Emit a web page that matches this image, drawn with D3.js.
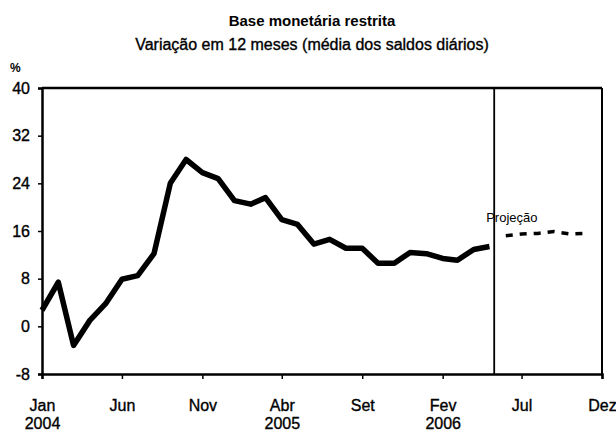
<!DOCTYPE html>
<html>
<head>
<meta charset="utf-8">
<script src="https://cdn.jsdelivr.net/npm/d3@7"></script>
<style>
  body { margin: 0; background: #fff; }
  text { font-family: "Liberation Sans", Arial, sans-serif; fill: #000; }
  .heavy { stroke: #000; stroke-width: 0.35px; }
</style>
</head>
<body>
<svg id="chart"></svg>
<script>
// data: 12-month change (%), monthly from Jan 2004
const startMonth = new Date(2004, 0, 1);
const observed = [2.7, 7.4, -3.2, 1.0, 3.8, 7.9, 8.5, 12.2, 24.0, 28.0, 25.8, 24.8,
                  21.1, 20.5, 21.6, 17.9, 17.1, 13.8, 14.6, 13.1, 13.1, 10.6, 10.6, 12.4,
                  12.2, 11.4, 11.1, 12.9, 13.4];
const projection = [15.2, 15.5, 15.6, 15.9, 15.5, 15.6];
const projectionSplit = new Date(2006, 4, 10);
const yTicks = [-8, 0, 8, 16, 24, 32, 40];
const xTickDates = [new Date(2004, 0, 1), new Date(2004, 5, 1), new Date(2004, 10, 1),
                    new Date(2005, 3, 1), new Date(2005, 8, 1), new Date(2006, 1, 1),
                    new Date(2006, 6, 1), new Date(2006, 11, 1)];
const xTickLabels = ["Jan", "Jun", "Nov", "Abr", "Set", "Fev", "Jul", "Dez"];
const xYearLabels = ["2004", "", "", "2005", "", "2006", "", ""];

const width = 616, height = 432;
const margin = {top: 88, right: 14, bottom: 58, left: 42};
const w = width - margin.left - margin.right;
const h = height - margin.top - margin.bottom;

const svgRoot = d3.select('#chart').attr('width', width).attr('height', height);

svgRoot.append('text').attr('x', 312).attr('y', 26)
    .attr('text-anchor', 'middle').style('font-size', '15px').style('font-weight', 'bold')
    .text('Base monetária restrita');
svgRoot.append('text').attr('x', 312).attr('y', 50).attr('class', 'heavy')
    .attr('text-anchor', 'middle').style('font-size', '16px')
    .text('Variação em 12 meses (média dos saldos diários)');
svgRoot.append('text').attr('x', 10).attr('y', 72)
    .style('font-size', '12px').style('font-weight', 'bold').text('%');

const svg = svgRoot.append('g')
    .attr('transform', 'translate(' + margin.left + ',' + margin.top + ')');

const obsData = observed.map((v, i) => ({date: d3.timeMonth.offset(startMonth, i), value: v}));
const projData = projection.map((v, i) => ({date: d3.timeMonth.offset(startMonth, observed.length + i), value: v}));

const x = d3.scaleTime()
    .domain([xTickDates[0], xTickDates[xTickDates.length - 1]])
    .range([0, w]);
const y = d3.scaleLinear().domain([-8, 40]).range([h, 0]);

// x axis
const xAxis = svg.append('g')
    .attr('transform', 'translate(0,' + h + ')')
    .call(d3.axisBottom(x).tickValues(xTickDates).tickSize(5).tickFormat((d, i) => xTickLabels[i]));
xAxis.select('.domain').attr('stroke-width', 2.5);
xAxis.selectAll('.tick line').attr('stroke-width', 1.5);
xAxis.selectAll('.tick text').attr('dy', null).attr('y', 37).attr('class', 'heavy').style('font-size', '16px');
xAxis.selectAll('.tick').append('text')
    .attr('y', 55).attr('text-anchor', 'middle').attr('fill', '#000').attr('class', 'heavy')
    .style('font-size', '16px')
    .text((d, i) => xYearLabels[i]);

// y axis
const yAxis = svg.append('g')
    .call(d3.axisLeft(y).tickValues(yTicks).tickSize(4).tickPadding(8).tickFormat(d => String(d)));
yAxis.select('.domain').attr('stroke-width', 2.5);
yAxis.selectAll('.tick line').attr('stroke-width', 1.5);
yAxis.selectAll('.tick text').attr('class', 'heavy').style('font-size', '16px');

// frame top and right
svg.append('line').attr('x1', 0).attr('x2', w).attr('y1', 0).attr('y2', 0)
    .attr('stroke', '#000').attr('stroke-width', 2.5);
svg.append('line').attr('x1', w).attr('x2', w).attr('y1', 0).attr('y2', h)
    .attr('stroke', '#000').attr('stroke-width', 2);

// split line
svg.append('line').attr('x1', x(projectionSplit)).attr('x2', x(projectionSplit))
    .attr('y1', 0).attr('y2', h).attr('stroke', '#000').attr('stroke-width', 1.8);

const line = d3.line().x(d => x(d.date)).y(d => y(d.value));

svg.append('path').datum(obsData)
    .attr('d', line).attr('fill', 'none').attr('stroke', '#000')
    .attr('stroke-width', 5.5).attr('stroke-linejoin', 'round');

svg.append('path').datum(projData)
    .attr('d', line).attr('fill', 'none').attr('stroke', '#000')
    .attr('stroke-width', 3.5).attr('stroke-dasharray', '7,7');

svg.append('text').attr('x', x(projectionSplit) - 8).attr('y', 222 - margin.top)
    .style('font-size', '13px').text('Projeção');
</script>
</body>
</html>
